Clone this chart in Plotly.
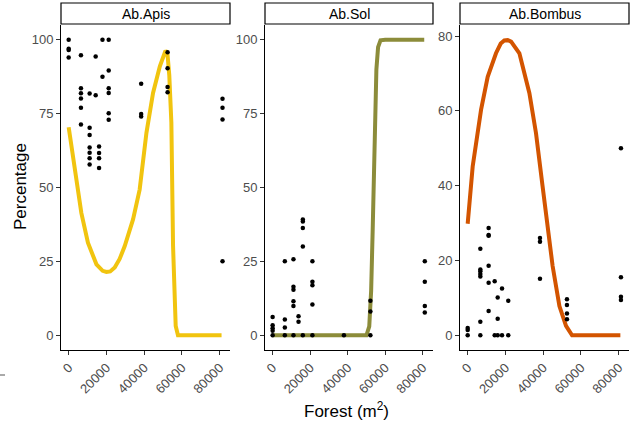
import plotly.graph_objects as go

# ---------------- data ----------------
panels = ["Ab.Apis", "Ab.Sol", "Ab.Bombus"]

apis_x = [0, 0, 0, 0,
          6500, 6500, 6500, 6500, 6500, 6500,
          11100, 11100, 11100, 11100, 11100, 11100, 11100,
          14300, 14300,
          16100, 16100, 16100, 16100,
          17900, 17900,
          21200, 21200, 21200, 21200, 21200, 21200,
          38400, 38400, 38400,
          52400, 52400, 52400, 52400,
          81500, 81500, 81500, 81500]
apis_y = [100, 97, 96.5, 94,
          94.8, 83.6, 81.9, 80.1, 77, 71.3,
          81.8, 70.2, 67.8, 63.5, 61.8, 59.9, 57.8,
          94.3, 81.2,
          63.9, 61.7, 59.9, 56.6,
          100, 87.5,
          100, 89.6, 83.6, 82, 75.1, 72.9,
          85.1, 74.9, 74,
          95.8, 90.4, 84, 82.2,
          80, 77, 73, 25]

sol_x = [0, 0, 0, 0, 0,
         6500, 6500, 6500, 6500,
         11100, 11100, 11100, 11100, 11100, 11100,
         13800, 13800,
         16100, 16100, 16100, 16100, 16100,
         21200, 21200, 21200, 21200, 21200,
         38000,
         52100, 52100, 52100,
         81100, 81100, 81100, 81100]
sol_y = [6.2, 3.4, 2.4, 1.5, 0,
         25, 5.3, 2.6, 0,
         25.7, 16.4, 15.4, 11.5, 9.9, 0,
         6.4, 4.6,
         39.2, 38.5, 36.3, 30, 0,
         25, 18.1, 16.9, 10.4, 0,
         0,
         11.7, 8, 0,
         25, 18.1, 9.9, 7.7]

bombus_x = [0, 0, 0,
            6700, 6700, 6700, 6700, 6700, 6700, 6700,
            11100, 11100, 11100, 11100, 11100, 11100,
            14300, 14300,
            15900, 15900, 15900,
            18200, 18200,
            21500, 21500,
            38300, 38300, 38300,
            52600, 52600, 52600, 52600,
            81200, 81200, 81200, 81200]
bombus_y = [1.9, 1.4, 0,
            23.1, 17.6, 17.1, 16.4, 15.7, 3.6, 0,
            28.7, 26.8, 26.6, 18.6, 14, 6.5,
            14.4, 0,
            10.1, 4.4, 0,
            12.5, 0,
            9.2, 0,
            26, 25, 15.1,
            9.6, 8.1, 5.8, 4.3,
            50, 15.5, 10.3, 9.4]

# fitted curves
apis_fx = [0, 2000, 4100, 6700, 10200, 14700, 18000, 20000, 22000, 24400, 27000, 29700,
           34100, 37600, 41200, 44700, 48300, 50300, 51300, 52300, 53300, 54400, 55300,
           56700, 57900, 81000]
apis_fy = [70.4, 61, 51.6, 41.4, 31.3, 24, 21.8, 21.4, 21.6, 22.9, 25.8, 30.2,
           39.2, 49.3, 68.5, 82, 91, 94.6, 96.3, 95.5, 88, 72, 30.2,
           3.1, 0, 0]

sol_fx = [0, 50000, 51500, 52500, 53300, 53900, 54600, 55300, 56200, 57500, 60000, 80800]
sol_fy = [0, 0, 3, 15, 35, 50.4, 75, 90, 97.5, 99.8, 100, 100]

bombus_fx = [0, 900, 2650, 7100, 10600, 15000, 17500, 19400, 21200, 23000, 27400, 32700,
             36200, 39700, 41500, 45000, 48600, 52100, 55300, 80900]
bombus_fy = [29.8, 36.3, 45.1, 60.3, 69.1, 75.4, 78, 78.8, 78.9, 78.5, 75.4, 64.7,
             54, 39.8, 32.7, 18.5, 7.8, 2.5, 0, 0]

line_colors = ["#F1C40F", "#8C8C3A", "#D35400"]

x_ticks = [0, 20000, 40000, 60000, 80000]
x_tick_text = ["0", "20000", "40000", "60000", "80000"]
y_ticks_ab = [0, 25, 50, 75, 100]
y_ticks_b = [0, 20, 40, 60, 80]

# ---------------- layout geometry ----------------
W, H = 639, 427
panel_px = [(61, 230), (265, 433), (460, 629)]
plot_top, plot_bot = 25, 350
strip_top = 3

fig = go.Figure()

series = [
    (apis_x, apis_y, apis_fx, apis_fy),
    (sol_x, sol_y, sol_fx, sol_fy),
    (bombus_x, bombus_y, bombus_fx, bombus_fy),
]

x_range = [-4070, 85470]
y_ranges = [[-5, 105], [-5, 105], [-3.95, 82.95]]
y_tick_sets = [y_ticks_ab, y_ticks_ab, y_ticks_b]

for i, (px, py, fx, fy) in enumerate(series):
    suffix = "" if i == 0 else str(i + 1)
    xa = "x" + suffix
    ya = "y" + suffix
    fig.add_trace(go.Scatter(x=fx, y=fy, mode="lines", xaxis=xa, yaxis=ya,
                             line=dict(color=line_colors[i], width=4),
                             showlegend=False, hoverinfo="skip"))
    fig.add_trace(go.Scatter(x=px, y=py, mode="markers", xaxis=xa, yaxis=ya,
                             marker=dict(color="black", size=4.5),
                             showlegend=False))

    x0, x1 = panel_px[i]
    common_axis = dict(showline=True, linecolor="black", linewidth=1,
                       ticks="outside", ticklen=4, tickcolor="#333333",
                       showgrid=False, zeroline=False,
                       tickfont=dict(family="Liberation Sans, Arial", size=13, color="#4d4d4d"))
    fig.update_layout(**{
        "xaxis" + suffix: dict(domain=[x0 / W, x1 / W], range=x_range,
                               anchor=ya, tickvals=x_ticks, ticktext=x_tick_text,
                               tickangle=-45, **common_axis),
        "yaxis" + suffix: dict(domain=[1 - plot_bot / H, 1 - plot_top / H],
                               range=y_ranges[i], anchor=xa,
                               tickvals=y_tick_sets[i], **common_axis),
    })
    # strip
    fig.add_shape(type="rect", xref="paper", yref="paper",
                  x0=x0 / W, x1=x1 / W, y0=1 - (plot_top - 1) / H, y1=1 - strip_top / H,
                  line=dict(color="black", width=1.2), fillcolor="white")
    fig.add_annotation(xref="paper", yref="paper", x=(x0 + x1) / 2 / W,
                       y=1 - (plot_top + strip_top) / 2 / H, text=panels[i],
                       showarrow=False, xanchor="center", yanchor="middle",
                       font=dict(family="Liberation Sans, Arial", size=14, color="black"))

fig.add_annotation(xref="paper", yref="paper", x=346 / W, y=1 - 410 / H,
                   text="Forest (m<sup>2</sup>)", showarrow=False,
                   xanchor="center", yanchor="middle",
                   font=dict(family="Liberation Sans, Arial", size=17, color="black"))
fig.add_annotation(xref="paper", yref="paper", x=20 / W, y=1 - 187 / H,
                   text="Percentage", showarrow=False, textangle=-90,
                   xanchor="center", yanchor="middle",
                   font=dict(family="Liberation Sans, Arial", size=17, color="black"))

# small stray dash at bottom-left of the reference image
fig.add_shape(type="line", xref="paper", yref="paper",
              x0=0, x1=5 / W, y0=1 - 375 / H, y1=1 - 375 / H,
              line=dict(color="#555555", width=1))

fig.update_layout(width=W, height=H, margin=dict(l=0, r=0, t=0, b=0),
                  paper_bgcolor="white", plot_bgcolor="white")

fig.write_html("out.html")
